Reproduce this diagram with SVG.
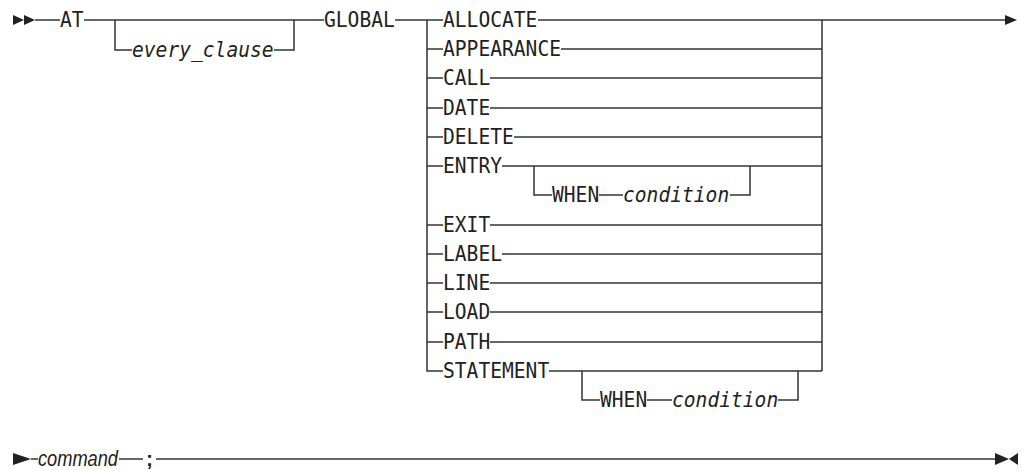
<svg xmlns="http://www.w3.org/2000/svg" width="1024" height="471" viewBox="0 0 1024 471">
<style>
.t{font-family:"DejaVu Sans Mono","Liberation Mono",monospace;font-size:21.5px;fill:#222}
.i{font-style:italic}
.p{font-family:"Liberation Sans",Arial,sans-serif;font-size:22px;font-style:italic;fill:#222}
.b{font-family:"Liberation Sans",Arial,sans-serif;font-size:21px;font-weight:bold;fill:#222}
.c path,.c line{stroke:#333;stroke-width:1.5;fill:none}
.a{fill:#222;stroke:none}
</style>
<rect width="1024" height="471" fill="#fff"/>
<g id="connectors" class="c">
<polygon class="a" points="13,15 24,20 13,25"/>
<polygon class="a" points="24,15 35,20 24,25"/>
<line x1="35" y1="20" x2="60" y2="20"/>
<line x1="84" y1="20" x2="324" y2="20"/>
<path d="M115,20 V50 H132"/>
<path d="M274,50 H294 V20"/>
<line x1="395" y1="20" x2="443" y2="20"/>
<path d="M427,20 V371 H443"/>
<line x1="822" y1="20" x2="822" y2="371"/>
<line x1="538" y1="20" x2="1006" y2="20"/>
<polygon class="a" points="1005,15 1017,20 1005,25"/>
<line x1="427" y1="49" x2="443" y2="49"/><line x1="561" y1="49" x2="822" y2="49"/>
<line x1="427" y1="78" x2="443" y2="78"/><line x1="490" y1="78" x2="822" y2="78"/>
<line x1="427" y1="108" x2="443" y2="108"/><line x1="490" y1="108" x2="822" y2="108"/>
<line x1="427" y1="137" x2="443" y2="137"/><line x1="514" y1="137" x2="822" y2="137"/>
<line x1="427" y1="166" x2="443" y2="166"/><line x1="502" y1="166" x2="822" y2="166"/>
<path d="M534,166 V195 H552"/>
<line x1="599" y1="195" x2="623" y2="195"/>
<path d="M730,195 H750 V166"/>
<line x1="427" y1="225" x2="443" y2="225"/><line x1="490" y1="225" x2="822" y2="225"/>
<line x1="427" y1="254" x2="443" y2="254"/><line x1="502" y1="254" x2="822" y2="254"/>
<line x1="427" y1="283" x2="443" y2="283"/><line x1="490" y1="283" x2="822" y2="283"/>
<line x1="427" y1="312" x2="443" y2="312"/><line x1="490" y1="312" x2="822" y2="312"/>
<line x1="427" y1="342" x2="443" y2="342"/><line x1="490" y1="342" x2="822" y2="342"/>
<line x1="549" y1="371" x2="822" y2="371"/>
<path d="M582,371 V400 H600"/>
<line x1="647" y1="400" x2="672" y2="400"/>
<path d="M778,400 H798 V371"/>
<polygon class="a" points="13,453 31,459 13,465"/>
<line x1="31" y1="459" x2="38" y2="459"/>
<line x1="119" y1="459" x2="143" y2="459"/>
<line x1="156" y1="459" x2="996" y2="459"/>
<polygon class="a" points="995,453 1009,459 995,465"/>
<polygon class="a" points="1018,453 1009,459 1018,465"/>
</g>
<g id="n-at"><text class="t" x="60" y="27" textLength="23.6" lengthAdjust="spacingAndGlyphs">AT</text></g>
<g id="n-every"><text class="t i" x="132" y="57" textLength="141.6" lengthAdjust="spacingAndGlyphs">every_clause</text></g>
<g id="n-global"><text class="t" x="324" y="27" textLength="70.8" lengthAdjust="spacingAndGlyphs">GLOBAL</text></g>
<g id="n-allocate"><text class="t" x="443" y="27" textLength="94.4" lengthAdjust="spacingAndGlyphs">ALLOCATE</text></g>
<g id="n-appearance"><text class="t" x="443" y="56" textLength="118" lengthAdjust="spacingAndGlyphs">APPEARANCE</text></g>
<g id="n-call"><text class="t" x="443" y="85" textLength="47.2" lengthAdjust="spacingAndGlyphs">CALL</text></g>
<g id="n-date"><text class="t" x="443" y="115" textLength="47.2" lengthAdjust="spacingAndGlyphs">DATE</text></g>
<g id="n-delete"><text class="t" x="443" y="144" textLength="70.8" lengthAdjust="spacingAndGlyphs">DELETE</text></g>
<g id="n-entry"><text class="t" x="443" y="173" textLength="59" lengthAdjust="spacingAndGlyphs">ENTRY</text></g>
<g id="n-when1"><text class="t" x="552" y="202" textLength="47.2" lengthAdjust="spacingAndGlyphs">WHEN</text></g>
<g id="n-cond1"><text class="t i" x="623" y="202" textLength="106.2" lengthAdjust="spacingAndGlyphs">condition</text></g>
<g id="n-exit"><text class="t" x="443" y="232" textLength="47.2" lengthAdjust="spacingAndGlyphs">EXIT</text></g>
<g id="n-label"><text class="t" x="443" y="261" textLength="59" lengthAdjust="spacingAndGlyphs">LABEL</text></g>
<g id="n-line"><text class="t" x="443" y="290" textLength="47.2" lengthAdjust="spacingAndGlyphs">LINE</text></g>
<g id="n-load"><text class="t" x="443" y="319" textLength="47.2" lengthAdjust="spacingAndGlyphs">LOAD</text></g>
<g id="n-path"><text class="t" x="443" y="349" textLength="47.2" lengthAdjust="spacingAndGlyphs">PATH</text></g>
<g id="n-statement"><text class="t" x="443" y="378" textLength="106.2" lengthAdjust="spacingAndGlyphs">STATEMENT</text></g>
<g id="n-when2"><text class="t" x="600" y="407" textLength="47.2" lengthAdjust="spacingAndGlyphs">WHEN</text></g>
<g id="n-cond2"><text class="t i" x="672" y="407" textLength="106.2" lengthAdjust="spacingAndGlyphs">condition</text></g>
<g id="n-command"><text class="p" x="38" y="466" textLength="80" lengthAdjust="spacingAndGlyphs">command</text></g>
<g id="n-semi"><text class="b" x="146" y="466">;</text></g>
</svg>
